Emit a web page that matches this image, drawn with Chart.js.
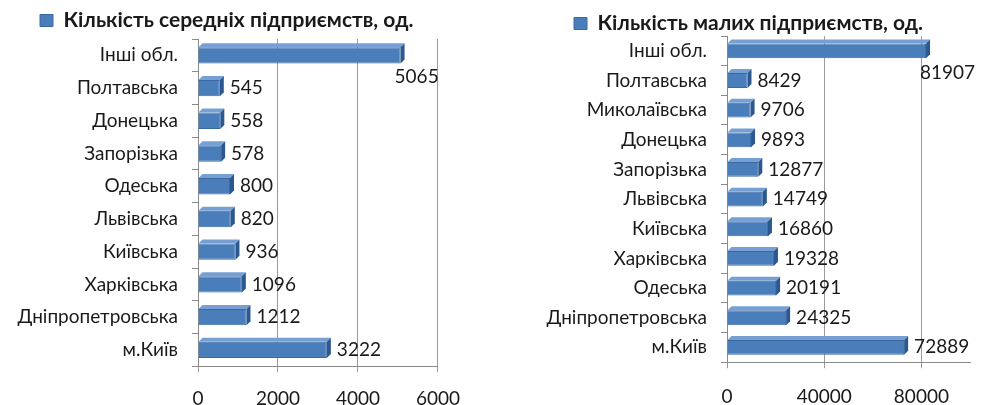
<!DOCTYPE html>
<html>
<head>
<meta charset="utf-8">
<script src="https://cdn.jsdelivr.net/npm/chart.js@4.4.1/dist/chart.umd.min.js"></script>
<style>
  html, body { margin: 0; padding: 0; background: #fff; }
  #left { position: absolute; left: 0; top: 0; width: 475px; height: 405px; }
  #right { position: absolute; left: 500px; top: 0; width: 494px; height: 405px; }
</style>
</head>
<body>
<div id="left"><canvas id="mediumChart"></canvas></div>
<div id="right"><canvas id="smallChart"></canvas></div>
<script>
// середні підприємства
const mediumTitle = "Кількість середніх підприємств, од.";
const mediumRegions = ["Інші обл.", "Полтавська", "Донецька", "Запорізька", "Одеська", "Львівська", "Київська", "Харківська", "Дніпропетровська", "м.Київ"];
const mediumValues = [5065, 545, 558, 578, 800, 820, 936, 1096, 1212, 3222];
const mediumTicks = [0, 2000, 4000, 6000];

// малі підприємства
const smallTitle = "Кількість малих підприємств, од.";
const smallRegions = ["Інші обл.", "Полтавська", "Миколаївська", "Донецька", "Запорізька", "Львівська", "Київська", "Харківська", "Одеська", "Дніпропетровська", "м.Київ"];
const smallValues = [81907, 8429, 9706, 9893, 12877, 14749, 16860, 19328, 20191, 24325, 72889];
const smallTicks = [0, 40000, 80000];

const FONT = "Lato, 'Open Sans', sans-serif";
const TEXT = "#1a1a1a";
const FS = 19;

// fake excel 3d look: top face and right cap
const bar3d = {
  id: "bar3d",
  afterDatasetsDraw(chart) {
    const ctx = chart.ctx;
    const d = 4;
    chart.getDatasetMeta(0).data.forEach(bar => {
      const { x, y, base, height } = bar.getProps(["x", "y", "base", "height"], true);
      const t = y - height / 2, b = y + height / 2;
      ctx.save();
      ctx.fillStyle = "#76a0d4";
      ctx.beginPath();
      ctx.moveTo(base, t); ctx.lineTo(base + d, t - d); ctx.lineTo(x + d, t - d); ctx.lineTo(x, t);
      ctx.closePath(); ctx.fill();
      ctx.fillStyle = "#2b5890";
      ctx.beginPath();
      ctx.moveTo(x, t); ctx.lineTo(x + d, t - d); ctx.lineTo(x + d, b - d); ctx.lineTo(x, b);
      ctx.closePath(); ctx.fill();
      ctx.restore();
    });
  }
};

const valueLabels = {
  id: "valueLabels",
  afterDatasetsDraw(chart) {
    const ctx = chart.ctx, area = chart.chartArea;
    const vals = chart.data.datasets[0].data;
    ctx.save();
    ctx.font = FS + "px " + FONT;
    ctx.fillStyle = TEXT;
    ctx.textAlign = "left";
    ctx.textBaseline = "middle";
    chart.getDatasetMeta(0).data.forEach((bar, i) => {
      const txt = String(vals[i]);
      const w = ctx.measureText(txt).width;
      let lx = bar.x + 10, ly = bar.y;
      // no room on the right: drop below the bar end
      if (lx + w > area.right + 10) { lx = bar.x - 6; ly = bar.y + 22; }
      ctx.fillText(txt, lx, ly);
    });
    ctx.restore();
  }
};

// legend sits where excel put it, not where layout wants it
const legendShift = {
  id: "legendShift",
  afterLayout(chart, args, opts) {
    chart.legend.left += opts.dx || 0;
    chart.legend.top += opts.dy || 0;
  }
};

function makeChart(id, title, regions, values, ticks, max, cfg) {
  return new Chart(document.getElementById(id), {
    type: "bar",
    data: {
      labels: regions,
      datasets: [{
        label: title,
        data: values,
        backgroundColor: "#4a7ebb",
        borderColor: "#3a68a0",
        borderWidth: 1,
        barPercentage: 0.5,
        categoryPercentage: 1
      }]
    },
    options: {
      indexAxis: "y",
      responsive: true,
      maintainAspectRatio: false,
      animation: false,
      layout: { padding: { left: 0, right: cfg.padR, top: 0, bottom: cfg.padB } },
      plugins: {
        legend: {
          position: "top",
          align: "start",
          labels: {
            boxWidth: 13, boxHeight: 12, padding: cfg.legPad,
            color: TEXT,
            font: { family: FONT, size: 21, weight: "bold" }
          }
        },
        legendShift: { dx: cfg.dx, dy: cfg.dy },
        tooltip: { enabled: false }
      },
      scales: {
        x: {
          min: 0, max: max,
          afterBuildTicks: s => { s.ticks = ticks.map(v => ({ value: v })); },
          grid: { color: "#9a9a9a", tickLength: 6 },
          border: { display: true, color: "#8a8a8a" },
          ticks: { color: TEXT, font: { family: FONT, size: FS }, padding: cfg.tickPad, callback: v => String(v) }
        },
        y: {
          afterFit: s => { s.width = cfg.axisX; },
          grid: { drawOnChartArea: false, tickLength: 6, color: "#8a8a8a" },
          border: { display: true, color: "#8a8a8a" },
          ticks: { color: TEXT, font: { family: FONT, size: FS }, padding: 14 }
        }
      }
    },
    plugins: [bar3d, valueLabels, legendShift]
  });
}

makeChart("mediumChart", mediumTitle, mediumRegions, mediumValues, mediumTicks, 6000,
  { padR: 29, padB: -20, tickPad: 15, axisX: 198, legPad: 8, dx: 32, dy: 2 });
makeChart("smallChart", smallTitle, smallRegions, smallValues, smallTicks, 100000,
  { padR: 24, padB: -20, tickPad: 17, axisX: 227, legPad: 5, dx: 69, dy: 8 });
</script>
</body>
</html>
